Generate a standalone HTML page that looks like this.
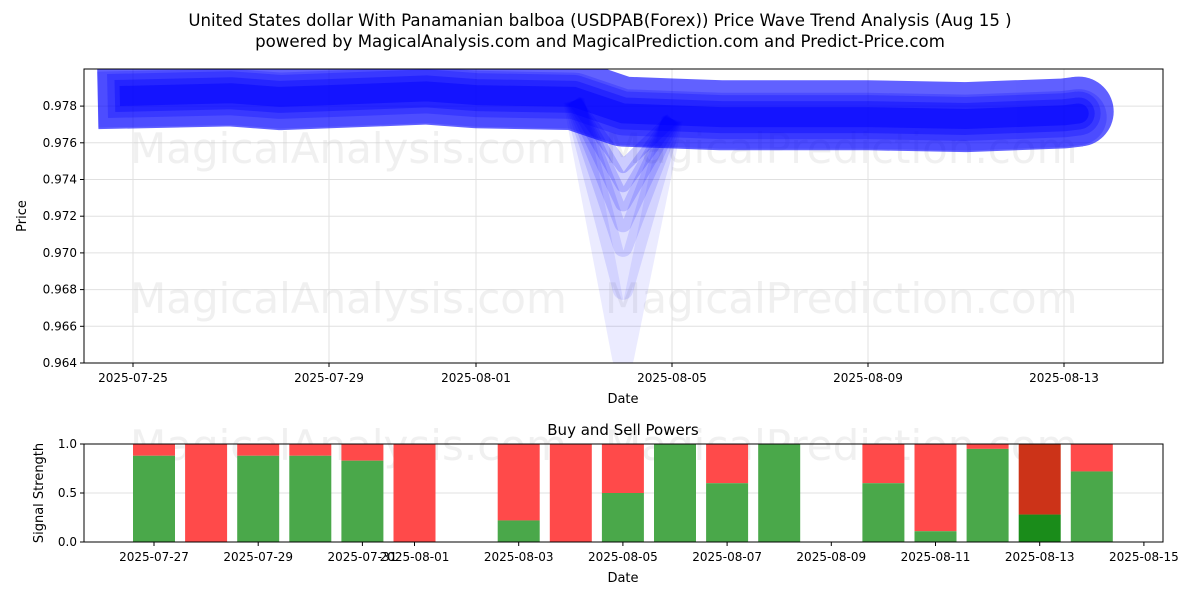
<!DOCTYPE html>
<html><head><meta charset="utf-8"><style>
body{margin:0;background:#fff;font-family:"Liberation Sans","DejaVu Sans",sans-serif}
svg text{font-family:"DejaVu Sans","Liberation Sans",sans-serif}
</style></head><body>
<svg id="c" width="1200" height="600" xmlns="http://www.w3.org/2000/svg">
<text x="600" y="26" font-size="16.6" text-anchor="middle">United States dollar With Panamanian balboa (USDPAB(Forex)) Price Wave Trend Analysis (Aug 15 )</text>
<text x="600" y="47" font-size="16.6" text-anchor="middle">powered by MagicalAnalysis.com and MagicalPrediction.com and Predict-Price.com</text>
<g id="top"></g>
<g id="bot"></g>
</svg>
<script>
// price chart data (day offsets from 2025-07-25)
const priceDays=[-0.72,2,3,4,5,6,7,9,10,11,12,13,15,17,19,19.3];
const priceVals=[0.97855,0.9787,0.9785,0.9786,0.9787,0.9788,0.9786,0.9785,0.9776,0.9775,0.9774,0.9774,0.9774,0.9773,0.9775,0.9776];
const dipVals=[0.9643,0.968,0.9703,0.9716,0.9727,0.9737,0.9747];
const yTicks=[0.964,0.966,0.968,0.970,0.972,0.974,0.976,0.978];
const xTickDays=[0,4,7,11,15,19];
const xTickLabels=["2025-07-25","2025-07-29","2025-08-01","2025-08-05","2025-08-09","2025-08-13"];
// signal chart data (day offsets from 2025-07-27)
const sigDays=[0,1,2,3,4,5,7,8,9,10,11,12,14,15,16,17,18];
const buyVals=[0.88,0,0.88,0.88,0.83,0,0.22,0,0.5,1,0.6,1,0.6,0.11,0.95,0.28,0.72];
const sigTickDays=[0,2,4,5,7,9,11,13,15,17,19];
const sigTickLabels=["2025-07-27","2025-07-29","2025-07-31","2025-08-01","2025-08-03","2025-08-05","2025-08-07","2025-08-09","2025-08-11","2025-08-13","2025-08-15"];

const NS="http://www.w3.org/2000/svg";
function mk(p,t,a){const e=document.createElementNS(NS,t);for(const k in a)e.setAttribute(k,a[k]);p.appendChild(e);return e;}
const topG=document.getElementById('top'),botG=document.getElementById('bot');
const L=84,R=1163,T=69,B=363;
const xs=d=>133+d*49;
const ys=v=>363-(v-0.964)/0.002*36.7;
yTicks.forEach(v=>{const y=ys(v);
 const g=mk(topG,'line',{x1:L,x2:R,y1:y,y2:y,stroke:'#e0e0e0','stroke-width':1});
 
 const tk=mk(topG,'line',{x1:L-4,x2:L,y1:y,y2:y,stroke:'#000'});
 
 const t=mk(topG,'text',{x:L-7,y:y+4,'font-size':12,'text-anchor':'end'});t.textContent=v.toFixed(3);
 });
xTickDays.forEach((d,i)=>{const x=xs(d);
 const g=mk(topG,'line',{x1:x,x2:x,y1:T,y2:B,stroke:'#e0e0e0'});
 
 const tk=mk(topG,'line',{x1:x,x2:x,y1:B,y2:B+4,stroke:'#000'});
 
 const t=mk(topG,'text',{x:x,y:B+19,'font-size':12,'text-anchor':'middle'});t.textContent=xTickLabels[i];
 });
[[130,163,'MagicalAnalysis.com'],[605,163,'MagicalPrediction.com'],[130,313,'MagicalAnalysis.com'],[605,313,'MagicalPrediction.com'],[130,460,'MagicalAnalysis.com'],[605,460,'MagicalPrediction.com']].forEach(w=>{
 const t=mk(topG,'text',{x:w[0],y:w[1],'font-size':42,fill:'#ccc','fill-opacity':0.3});t.textContent=w[2];
 });
const cp=mk(topG,'clipPath',{id:'cp'});mk(cp,'rect',{x:L,y:T,width:R-L,height:B-T});
const lg=mk(topG,'g',{'clip-path':'url(#cp)'});
function pts(dip,off,skip,from,to){let out=[];priceDays.forEach((d,i)=>{if(i<from||i>to)return;let v=priceVals[i]+off;if(i===8&&dip!==null)v=dip;let dd=(i===0&&skip)?d+skip:d;out.push(xs(dd)+','+ys(v));});return out.join(' ');}
const n=priceDays.length;
dipVals.forEach((dv,i)=>{
 const p=mk(lg,'polyline',{points:pts(dv,-0.0002,0,7,9),fill:'none',stroke:'#0000ff','stroke-opacity':0.08+i*0.02,'stroke-width':22-i*1.5,'stroke-linejoin':'round','stroke-linecap':'butt'});
 });
[[70,0.62,0.0001,0],[56,0.2,-0.0002,0],[44,0.25,0,0.2],[32,0.35,0,0.35],[20,0.45,0,0.45]].forEach(s=>{
 const g=mk(lg,'g',{opacity:s[1]});
 const p=mk(g,'polyline',{points:pts(null,s[2],s[3],0,n-1),fill:'none',stroke:'#0000ff','stroke-width':s[0],'stroke-linejoin':'round','stroke-linecap':'butt'});
 
 const c=mk(g,'circle',{cx:xs(priceDays[n-1]),cy:ys(priceVals[n-1]+s[2]),r:s[0]/2,fill:'#0000ff'});
 });
mk(topG,'rect',{x:L,y:T,width:R-L,height:B-T,fill:'none',stroke:'#000','stroke-width':1});
let t=mk(topG,'text',{x:623,y:403,'font-size':13,'text-anchor':'middle'});t.textContent='Date';

t=mk(topG,'text',{x:26,y:216,'font-size':13,'text-anchor':'middle',transform:'rotate(-90 26 216)'});t.textContent='Price';


const BT=444,BB=542;
const bx=d=>154+d*52.1;
const by=v=>BB-v*98;
[0,0.5,1].forEach(v=>{const y=by(v);
 const g=mk(botG,'line',{x1:L,x2:R,y1:y,y2:y,stroke:'#e0e0e0'});
 const tk=mk(botG,'line',{x1:L-4,x2:L,y1:y,y2:y,stroke:'#000'});
 const tt=mk(botG,'text',{x:L-7,y:y+4,'font-size':12,'text-anchor':'end'});tt.textContent=v.toFixed(1);
 });
sigDays.forEach((d,i)=>{const x=bx(d)-21,b=buyVals[i];const dark=d===17;
 const r=mk(botG,'rect',{x:x,y:by(1),width:42,height:by(b)-by(1),fill:dark?'#cc3318':'#ff4a4a'});
 
 const g=mk(botG,'rect',{x:x,y:by(b),width:42,height:BB-by(b),fill:dark?'#1a8c1a':'#4aa84a'});
 });
sigTickDays.forEach((d,i)=>{const x=bx(d);
 const tk=mk(botG,'line',{x1:x,x2:x,y1:BB,y2:BB+4,stroke:'#000'});
 const tt=mk(botG,'text',{x:x,y:BB+19,'font-size':12,'text-anchor':'middle'});tt.textContent=sigTickLabels[i];
 });
mk(botG,'rect',{x:L,y:BT,width:R-L,height:BB-BT,fill:'none',stroke:'#000'});
t=mk(botG,'text',{x:623,y:435,'font-size':15,'text-anchor':'middle'});t.textContent='Buy and Sell Powers';

t=mk(botG,'text',{x:623,y:582,'font-size':13,'text-anchor':'middle'});t.textContent='Date';

t=mk(botG,'text',{x:43,y:493,'font-size':13,'text-anchor':'middle',transform:'rotate(-90 43 493)'});t.textContent='Signal Strength';

</script>
</body></html>
